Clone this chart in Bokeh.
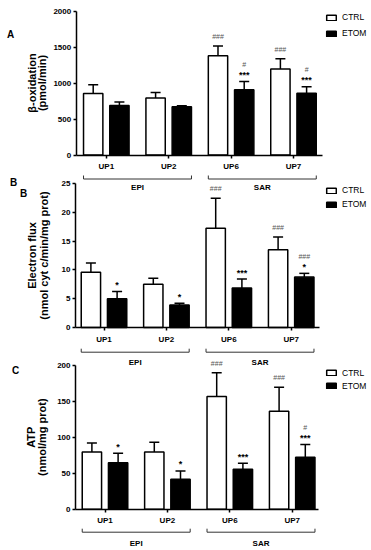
import math
from bokeh.plotting import figure
from bokeh.models import Range1d, FixedTicker, ColumnDataSource, Whisker, TeeHead
from bokeh.core.properties import value
from bokeh.layouts import column
from bokeh.embed import file_html
from bokeh.resources import INLINE

FONT = "Liberation Sans"

groups = ["UP1", "UP2", "UP6", "UP7"]
regions = ["EPI", "SAR"]
region_groups = [[0, 1], [2, 3]]
series = ["CTRL", "ETOM"]

# Panel A: beta-oxidation (pmol/min)
a_ctrl = [855, 792, 1379, 1194]
a_ctrl_err = [121, 77, 135, 144]
a_etom = [689, 671, 907, 856]
a_etom_err = [47, 14, 115, 93]
a_ctrl_sig = ["", "", "###", "###"]
a_etom_sig1 = ["", "", "***", "***"]
a_etom_sig2 = ["", "", "#", "#"]
a_yticks = [0, 500, 1000, 1500, 2000]
a_title = ["β-oxidation", "(pmol/min)"]

# Panel B: electron flux (nmol cyt c/min/mg prot)
b_ctrl = [9.6, 7.5, 17.25, 13.5]
b_ctrl_err = [1.6, 1.05, 5.2, 2.2]
b_etom = [5.0, 3.9, 6.85, 8.75]
b_etom_err = [1.25, 0.3, 1.55, 0.65]
b_ctrl_sig = ["", "", "###", "###"]
b_etom_sig1 = ["*", "*", "***", "*"]
b_etom_sig2 = ["", "", "", "###"]
b_yticks = [0, 5, 10, 15, 20, 25]
b_title = ["Electron flux", "(nmol cyt c/min/mg prot)"]

# Panel C: ATP (nmol/mg prot)
c_ctrl = [79.6, 79.6, 156.5, 136.1]
c_ctrl_err = [12.5, 13.4, 32.9, 33.3]
c_etom = [64.4, 41.7, 55.6, 72.2]
c_etom_err = [13.4, 11.5, 8.3, 17.6]
c_ctrl_sig = ["", "", "###", "###"]
c_etom_sig1 = ["*", "*", "***", "***"]
c_etom_sig2 = ["", "", "", "#"]
c_yticks = [0, 50, 100, 150, 200]
c_title = ["ATP", "(nmol/mg prot)"]

# layout constants (pixels)
W = 371
PX_X = 62.4          # px per group
PLOT_PX = 144        # px from 0 to the top tick
BAR_W = 0.31
DODGE = 0.21


def panel(ctrl, ctrl_err, etom, etom_err, ctrl_sig, etom_sig1, etom_sig2, yticks,
          title_lines, letters, canvas_top, canvas_bottom, y0_px, axis_px, c0_px,
          axis_end_px, bracket_px, region_px, title_px, legend_rows, margin_top):
    ymax = yticks[-1]
    unit = ymax / PLOT_PX

    def x_of(px):
        return (px - c0_px) / PX_X

    def y_of(py):
        return (y0_px - py) * unit

    h = canvas_bottom - canvas_top
    p = figure(frame_width=W, frame_height=h,
               x_range=Range1d(x_of(0), x_of(W)),
               y_range=Range1d(y_of(canvas_bottom), y_of(canvas_top)),
               output_backend="svg", toolbar_location=None,
               min_border=0, min_border_left=0, min_border_right=0,
               min_border_top=0, min_border_bottom=0,
               margin=(margin_top, 0, 0, 0))
    p.title.visible = False
    p.grid.visible = False
    p.outline_line_color = None
    p.background_fill_alpha = 0
    p.border_fill_alpha = 0

    xc = [i - DODGE for i in range(len(groups))]
    xe = [i + DODGE for i in range(len(groups))]
    ctrl_top = [v + e for v, e in zip(ctrl, ctrl_err)]
    etom_top = [v + e for v, e in zip(etom, etom_err)]

    src_c = ColumnDataSource(dict(x=xc, val=ctrl, top=ctrl_top))
    src_e = ColumnDataSource(dict(x=xe, val=etom, top=etom_top))

    p.vbar(x="x", top="val", width=BAR_W, source=src_c, fill_color="white",
           line_color="black", line_width=1.5, legend_label=series[0])
    p.vbar(x="x", top="val", width=BAR_W, source=src_e, fill_color="black",
           line_color="black", line_width=1.5, legend_label=series[1])
    for s in (src_c, src_e):
        p.add_layout(Whisker(source=s, base="x", lower="val", upper="top",
                             dimension="height", line_width=1.5, line_color="black",
                             lower_head=None,
                             upper_head=TeeHead(size=10, line_width=1.5, line_color="black")))

    # significance marks
    hx, hy, ht, ho = [], [], [], []
    sx, sy, st, so = [], [], [], []
    entries = []
    for i in range(len(groups)):
        if ctrl_sig[i]:
            entries.append((xc[i], ctrl_top[i], ctrl_sig[i], 0))
        if etom_sig1[i]:
            entries.append((xe[i], etom_top[i], etom_sig1[i], 0))
        if etom_sig2[i]:
            entries.append((xe[i], etom_top[i], etom_sig2[i], 1))
    for x, y, t, row in entries:
        off = -9.5 - 7.5 * row
        if "#" in t:
            hx.append(x); hy.append(y); ht.append(t); ho.append(off)
        else:
            sx.append(x); sy.append(y); st.append(t); so.append(off + 3)
    p.text(x="x", y="y", text="t", y_offset="o",
           source=ColumnDataSource(dict(x=hx, y=hy, t=ht, o=ho)),
           text_font=value(FONT), text_font_size="7px", text_color="#555555",
           text_align="center", text_baseline="middle")
    p.text(x="x", y="y", text="t", y_offset="o",
           source=ColumnDataSource(dict(x=sx, y=sy, t=st, o=so)),
           text_font=value(FONT), text_font_size="9px", text_font_style="bold",
           text_color="black", text_align="center", text_baseline="middle")

    # region brackets
    yb = -bracket_px * unit
    yt = -(bracket_px - 3.5) * unit
    xs, ys, lx = [], [], []
    for members in region_groups:
        xl = min(members) - DODGE - BAR_W / 2
        xr = max(members) + DODGE + BAR_W / 2
        xs.append([xl, xl, xr, xr])
        ys.append([yt, yb, yb, yt])
        lx.append(sum(members) / len(members))
    p.multi_line(xs=xs, ys=ys, line_color="#333333", line_width=1)
    p.text(x=lx, y=[-region_px * unit] * len(lx), text=regions,
           text_font=value(FONT), text_font_size="8px", text_font_style="bold",
           text_align="center", text_baseline="middle", text_color="black")

    # y title (two lines, rotated) and panel letters
    ymid = ymax / 2
    p.text(x=[x_of(px) for px in title_px], y=[ymid] * len(title_lines), text=title_lines,
           angle=math.pi / 2, text_font=value(FONT), text_font_size="11px",
           text_font_style="bold", text_align="center", text_baseline="middle",
           text_color="black")
    p.text(x=[x_of(l[1]) for l in letters], y=[y_of(l[2]) for l in letters],
           text=[l[0] for l in letters], text_font=value(FONT), text_font_size="10px",
           text_font_style="bold", text_align="center", text_baseline="middle",
           text_color="black")

    # axes
    xa = p.xaxis[0]
    xa.fixed_location = 0
    xa.bounds = (x_of(axis_px), x_of(axis_end_px))
    xa.ticker = FixedTicker(ticks=list(range(len(groups))))
    xa.major_label_overrides = {i: g for i, g in enumerate(groups)}
    xa.major_tick_in = 0
    xa.major_tick_out = 3
    xa.minor_tick_line_color = None
    xa.axis_line_width = 1.5
    xa.major_tick_line_width = 1.5
    xa.major_label_standoff = 4
    xa.major_label_text_font = FONT
    xa.major_label_text_font_size = "8px"
    xa.major_label_text_font_style = "bold"
    xa.major_label_text_color = "black"

    ya = p.yaxis[0]
    ya.fixed_location = x_of(axis_px)
    ya.bounds = (0, ymax)
    ya.ticker = FixedTicker(ticks=yticks)
    ya.major_tick_in = 0
    ya.major_tick_out = 3
    ya.minor_tick_line_color = None
    ya.axis_line_width = 1.5
    ya.major_tick_line_width = 1.5
    ya.major_label_standoff = 2
    ya.major_label_text_font = FONT
    ya.major_label_text_font_size = "8px"
    ya.major_label_text_font_style = "bold"
    ya.major_label_text_color = "black"

    # legend: rows centred at legend_rows (px from canvas top)
    row_h = 10
    spacing = int(round(legend_rows[1] - legend_rows[0] - row_h))
    leg_top = legend_rows[0] - row_h / 2 - canvas_top
    leg_h = 2 * row_h + spacing
    leg = p.legend[0]
    leg.location = (325, h - leg_top - leg_h)
    leg.margin = 0
    leg.padding = 0
    leg.spacing = spacing
    leg.glyph_width = 12
    leg.glyph_height = 7
    leg.label_height = row_h
    leg.label_standoff = 5
    leg.label_text_font = FONT
    leg.label_text_font_size = "8.5px"
    leg.label_text_color = "black"
    leg.border_line_color = None
    leg.background_fill_alpha = 0
    return p


pa = panel(a_ctrl, a_ctrl_err, a_etom, a_etom_err, a_ctrl_sig, a_etom_sig1, a_etom_sig2,
           a_yticks, a_title, [("A", 10, 34)],
           canvas_top=0, canvas_bottom=193, y0_px=154.5, axis_px=75.7, c0_px=105.8,
           axis_end_px=322, bracket_px=24, region_px=32.5, title_px=[31, 41.7],
           legend_rows=[17.3, 33.3], margin_top=0)
pb = panel(b_ctrl, b_ctrl_err, b_etom, b_etom_err, b_ctrl_sig, b_etom_sig1, b_etom_sig2,
           b_yticks, b_title, [("B", 13, 182), ("B", 23, 193)],
           canvas_top=176, canvas_bottom=367, y0_px=327, axis_px=75, c0_px=103.5,
           axis_end_px=319, bracket_px=24.7, region_px=34.7, title_px=[31.7, 43.3],
           legend_rows=[190, 204.3], margin_top=-17)
pc = panel(c_ctrl, c_ctrl_err, c_etom, c_etom_err, c_ctrl_sig, c_etom_sig1, c_etom_sig2,
           c_yticks, c_title, [("C", 15, 370)],
           canvas_top=358, canvas_bottom=550, y0_px=508.7, axis_px=75, c0_px=104.5,
           axis_end_px=318, bracket_px=23, region_px=34, title_px=[30, 41.7],
           legend_rows=[372.7, 385.3], margin_top=-9)

layout = column(pa, pb, pc, spacing=0)
open("out.html", "w").write(file_html(layout, INLINE))
